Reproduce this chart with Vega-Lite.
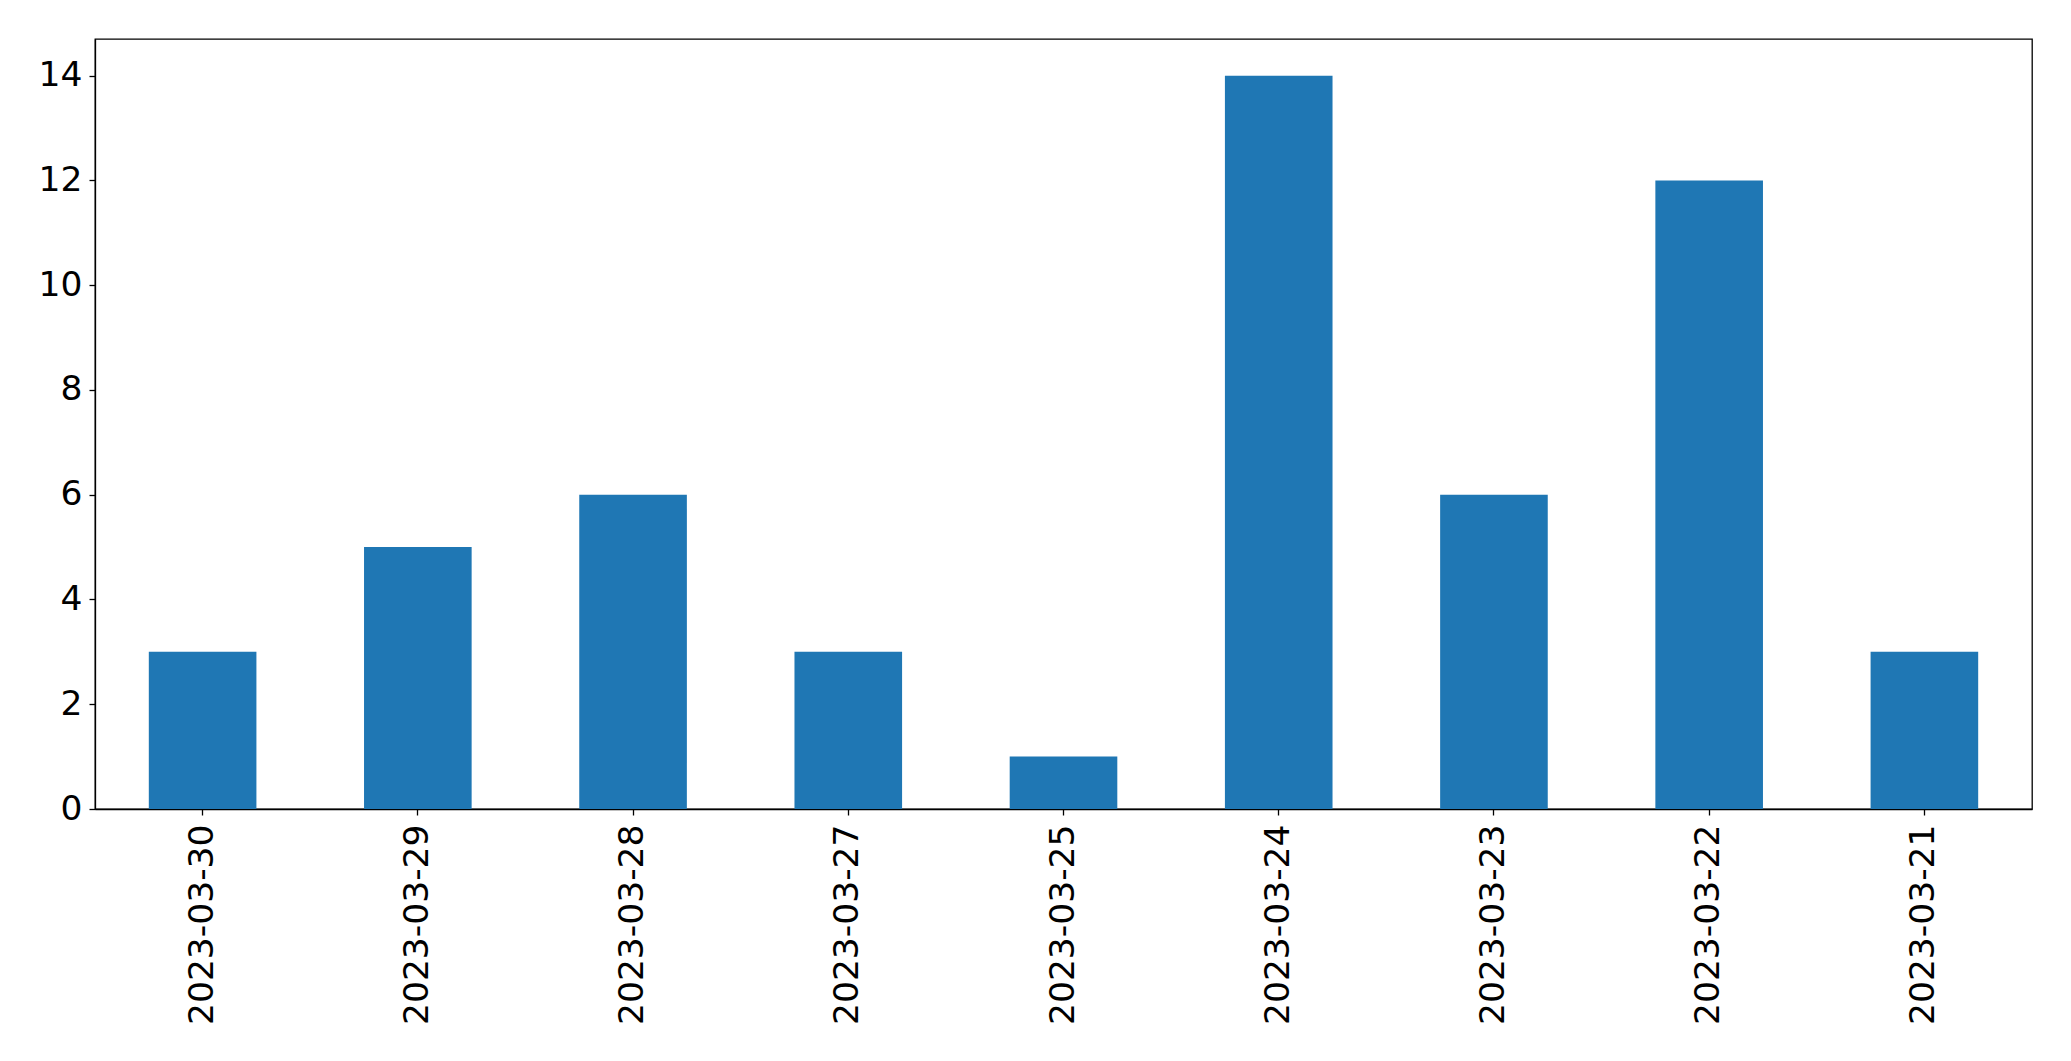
{
  "$schema": "https://vega.github.io/schema/vega-lite/v6.json",
  "width": 1937,
  "height": 770,
  "autosize": {"type": "none"},
  "padding": {"left": 95, "top": 39, "right": 39, "bottom": 252},
  "background": "white",
  "data": {
    "values": [
      {"date": "2023-03-30", "count": 3},
      {"date": "2023-03-29", "count": 5},
      {"date": "2023-03-28", "count": 6},
      {"date": "2023-03-27", "count": 3},
      {"date": "2023-03-25", "count": 1},
      {"date": "2023-03-24", "count": 14},
      {"date": "2023-03-23", "count": 6},
      {"date": "2023-03-22", "count": 12},
      {"date": "2023-03-21", "count": 3}
    ]
  },
  "mark": {"type": "bar", "color": "#1f77b4"},
  "encoding": {
    "x": {
      "field": "date",
      "type": "nominal",
      "sort": null,
      "scale": {"paddingInner": 0.5, "paddingOuter": 0.25},
      "axis": {
        "title": null,
        "labelAngle": -90,
        "labelAlign": "right",
        "labelBaseline": "middle",
        "labelPadding": 9,
        "labelLimit": 0,
        "tickSize": 6
      }
    },
    "y": {
      "field": "count",
      "type": "quantitative",
      "scale": {"domain": [0, 14.7], "nice": false, "zero": true},
      "axis": {
        "title": null,
        "values": [0, 2, 4, 6, 8, 10, 12, 14],
        "grid": false,
        "labelPadding": 7,
        "tickSize": 6
      }
    }
  },
  "config": {
    "view": {"stroke": "black", "strokeWidth": 1.3},
    "axis": {
      "labelFont": "DejaVu Sans",
      "labelFontSize": 34.5,
      "labelColor": "black",
      "domainColor": "black",
      "domainWidth": 1.3,
      "tickColor": "black",
      "tickWidth": 1.3,
      "labelFlush": false,
      "labelOverlap": false
    }
  }
}
